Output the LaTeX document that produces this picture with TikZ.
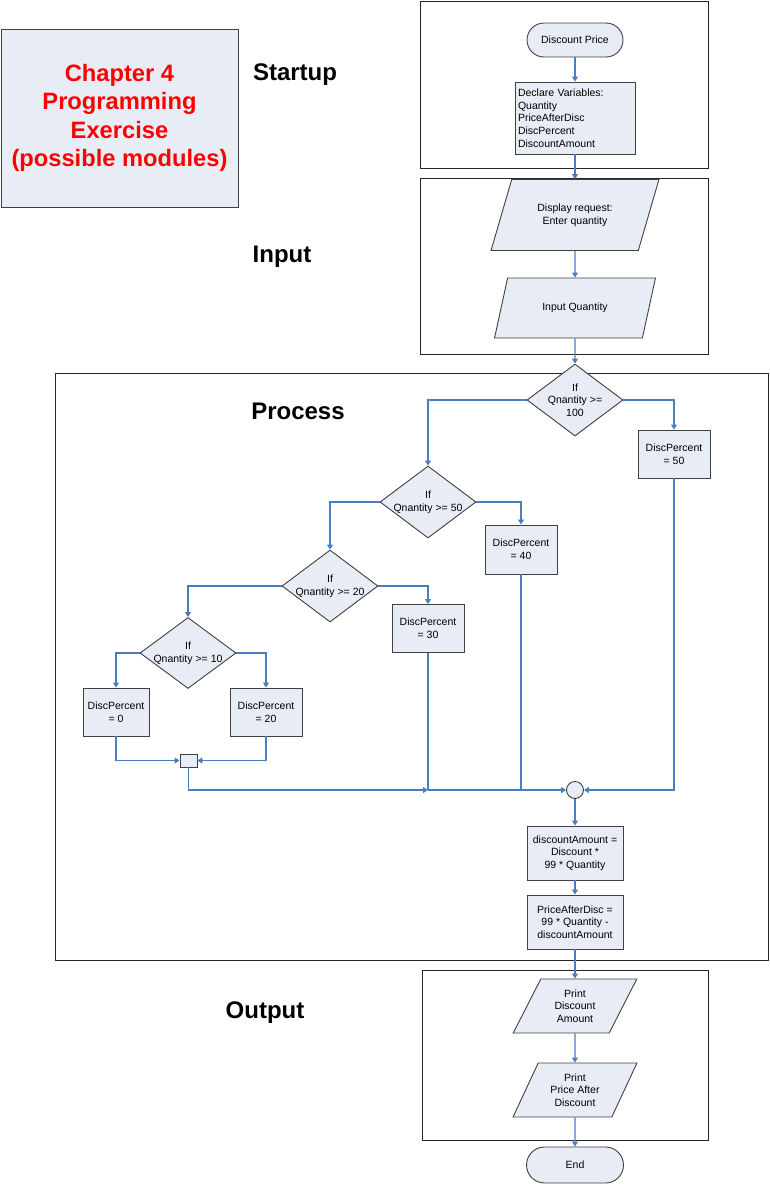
\documentclass[tikz,border=0pt]{standalone}
\usepackage{fontspec}
\setmainfont{Liberation Sans}
\usetikzlibrary{arrows.meta,positioning,shapes.geometric,calc}
\definecolor{boxfill}{RGB}{232,236,245}
\definecolor{linkblue}{RGB}{74,126,192}

\begin{document}
\begin{tikzpicture}[
  x=1pt,y=-1pt,
  frame/.style={draw=black!85, line width=1pt},
  proc/.style={draw=black!75, fill=boxfill, line width=0.9pt, font=\fontsize{10.5}{12.7}\selectfont, align=center, inner sep=2pt},
  term/.style={proc, rounded corners=17pt, minimum width=96pt, minimum height=34pt},
  decision/.style={proc, diamond, minimum width=96pt, minimum height=72pt, inner xsep=-8pt, inner ysep=-3pt},
  io/.style={proc, trapezium, trapezium left angle=64, trapezium right angle=116, trapezium stretches=true},
  set/.style={proc, minimum width=72pt, minimum height=48pt},
  link/.style={draw=linkblue, line width=1.2pt, -{Triangle[length=5pt,width=6pt]}},
  plain/.style={draw=linkblue, line width=1.2pt},
  head/.style={font=\fontsize{24}{28}\selectfont\bfseries}
]
  \useasboundingbox (0,0) rectangle (769,1184);

  % module frames
  \node[frame, minimum width=288pt, minimum height=167pt] (fstart) at (564,84.5) {};
  \node[frame, minimum width=288pt, minimum height=176pt] (finput) at (564,266) {};
  \node[frame, minimum width=713pt, minimum height=587pt] (fproc) at (411.5,666.5) {};
  \node[frame, minimum width=286pt, minimum height=170pt] (fout) at (565,1055) {};

  \node[proc, minimum width=237pt, minimum height=178pt, text=red, font=\fontsize{23.7}{28.3}\selectfont\bfseries] (title) at (119.5,118) {Chapter 4\\Programming\\Exercise\\(possible modules)};
  \node[head] (hstart) at (295,75) {Startup};
  \node[head] (hinput) at (282,257) {Input};
  \node[head] (hproc) at (298,411) {Process};
  \node[head] (hout) at (265,1013) {Output};

  % startup / input
  \node[term] (start) at (575,40) {Discount Price};
  \node[proc, text width=114pt, align=left, minimum height=72pt, inner sep=3pt] (decl) at (575,118) {Declare Variables:\\Quantity\\PriceAfterDisc\\DiscPercent\\DiscountAmount};
  \node[io, minimum width=168pt, minimum height=71pt] (disp) at (575,215) {Display request:\\Enter quantity};
  \node[io, minimum width=162pt, minimum height=60pt] (inq) at (575,308) {Input Quantity};
  \draw[link] (start) -- (decl);
  \draw[link] (decl) -- (disp);
  \draw[link] (disp) -- (inq);

  % process
  \node[decision] (d1) at (575,400) {If\\Qnantity >=\\100};
  \node[set] (p50) at (674,454) {DiscPercent\\= 50};
  \node[decision] (d2) at (428,502) {If\\Qnantity >= 50};
  \node[set, minimum height=49pt] (p40) at (521,549.5) {DiscPercent\\= 40};
  \node[decision] (d3) at (330,586) {If\\Qnantity >= 20};
  \node[set] (p30) at (428,628.5) {DiscPercent\\= 30};
  \node[decision, minimum height=71pt] (d4) at (188,653) {If\\Qnantity >= 10};
  \node[set, minimum width=66pt] (p0) at (116,712) {DiscPercent\\= 0};
  \node[set] (p20) at (266,712) {DiscPercent\\= 20};
  \node[proc, minimum width=17pt, minimum height=13pt, inner sep=0pt] (jn) at (188.5,760.5) {};
  \node[proc, circle, minimum size=17pt, inner sep=0pt] (c1) at (575,790) {};
  \node[proc, minimum width=96pt, minimum height=54pt] (calc1) at (575,853) {discountAmount =\\Discount *\\99 * Quantity};
  \node[proc, minimum width=96pt, minimum height=54pt] (calc2) at (575,922) {PriceAfterDisc =\\99 * Quantity -\\discountAmount};

  \draw[link] (inq) -- (d1);
  \draw[link] (d1.west) -| (d2.north);
  \draw[link] (d1.east) -| (p50.north);
  \draw[link] (d2.west) -| (d3.north);
  \draw[link] (d2.east) -| (p40.north);
  \draw[link] (d3.west) -| (d4.north);
  \draw[link] (d3.east) -| (p30.north);
  \draw[link] (d4.west) -| (p0.north);
  \draw[link] (d4.east) -| (p20.north);
  \draw[link] (p0.south) |- (jn.west);
  \draw[link] (p20.south) |- (jn.east);
  \coordinate (m30) at (p30.south |- c1.west);
  \coordinate (m40) at (p40.south |- c1.west);
  \draw[link] (jn.south) |- (m30);
  \draw[plain] (p30.south) -- (m30);
  \draw[plain] (p40.south) -- (m40);
  \draw[link] (m30) -- (c1.west);
  \draw[link] (p50.south) |- (c1.east);
  \draw[link] (c1) -- (calc1);
  \draw[link] (calc1) -- (calc2);

  % output
  \node[io, minimum width=124pt, minimum height=54pt] (out1) at (575,1006) {Print\\Discount\\Amount};
  \node[io, minimum width=124pt, minimum height=54pt] (out2) at (575,1090) {Print\\Price After\\Discount};
  \node[term, minimum width=97pt, minimum height=36pt, rounded corners=18pt] (end) at (575,1165) {End};
  \draw[link] (calc2) -- (out1);
  \draw[link] (out1) -- (out2);
  \draw[link] (out2) -- (end);
\end{tikzpicture}
\end{document}
